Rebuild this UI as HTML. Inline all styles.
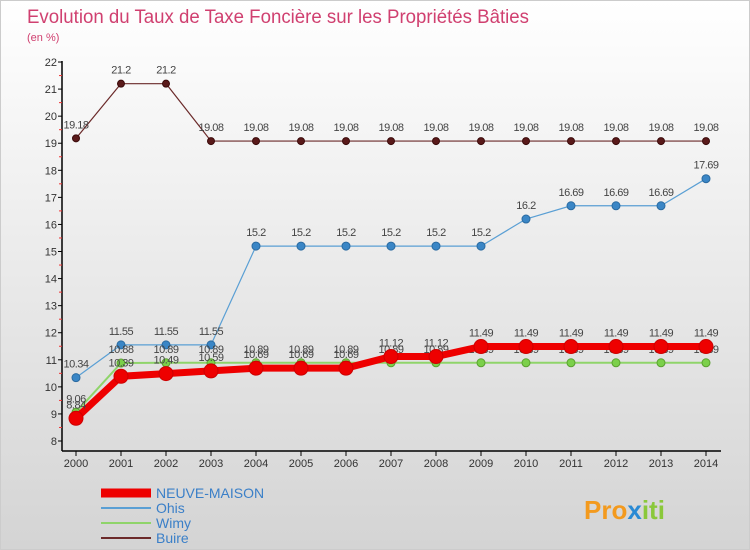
<!DOCTYPE html>
<html><head><meta charset="utf-8"><style>
body{margin:0}
#wrap{width:750px;height:550px;position:relative;background:linear-gradient(#fff,#d4d4d4);font-family:"Liberation Sans",sans-serif;overflow:hidden;border:1px solid #ccc;box-sizing:border-box}
</style></head><body>
<div id="wrap">
<svg id="c" width="750" height="550"></svg>
</div>
<script>
const years=[2000,2001,2002,2003,2004,2005,2006,2007,2008,2009,2010,2011,2012,2013,2014];
const neuve=[8.84,10.39,10.49,10.59,10.69,10.69,10.69,11.12,11.12,11.49,11.49,11.49,11.49,11.49,11.49];
const ohis=[10.34,11.55,11.55,11.55,15.2,15.2,15.2,15.2,15.2,15.2,16.2,16.69,16.69,16.69,17.69];
const wimy=[9.06,10.88,10.89,10.89,10.89,10.89,10.89,10.89,10.89,10.89,10.89,10.89,10.89,10.89,10.89];
const buire=[19.18,21.2,21.2,19.08,19.08,19.08,19.08,19.08,19.08,19.08,19.08,19.08,19.08,19.08,19.08];
const X=i=>75+i*45, Y=v=>440-(v-8)*27.07;
const svg=document.getElementById('c');const NS='http://www.w3.org/2000/svg';
function el(t,a,txt){const e=document.createElementNS(NS,t);for(const k in a)e.setAttribute(k,a[k]);if(txt!=null)e.textContent=txt;svg.appendChild(e);return e;}
let e;
e=el('text',{x:26,y:22,'font-size':19,fill:'#d04070','textLength':502,'lengthAdjust':'spacingAndGlyphs'},'Evolution du Taux de Taxe Foncière sur les Propriétés Bâties');

e=el('text',{x:26,y:40,'font-size':11,fill:'#d04070'},'(en %)');

e=el('line',{x1:61,y1:60,x2:61,y2:450,stroke:'#000','stroke-width':1.5});

e=el('line',{x1:61,y1:450,x2:720,y2:450,stroke:'#000','stroke-width':1.5});

for(let v=8;v<=22;v++){
 e=el('line',{x1:57,y1:Y(v),x2:61,y2:Y(v),stroke:'#000'});
 
 e=el('text',{x:56,y:Y(v)+4,'font-size':11,fill:'#333','text-anchor':'end'},String(v));
 
 if(v<22){e=el('line',{x1:58,y1:Y(v+0.5),x2:61,y2:Y(v+0.5),stroke:'#e33'});
 }
}
years.forEach((yr,i)=>{
 e=el('line',{x1:X(i),y1:450,x2:X(i),y2:455,stroke:'#000'});
 
 e=el('text',{x:X(i),y:466,'font-size':11,fill:'#333','text-anchor':'middle'},String(yr));
 
});
function series(data,name,color,w,r,dot,stroke,lblOff){
 const pts=data.map((v,i)=>X(i)+','+Y(v)).join(' ');
 e=el('polyline',{points:pts,fill:'none',stroke:color,'stroke-width':w,'stroke-linejoin':'round'});
 
 data.forEach((v,i)=>{
  e=el('circle',{cx:X(i),cy:Y(v),r:r,fill:dot,stroke:stroke,'stroke-width':1});
  
 });
 data.forEach((v,i)=>{
  e=el('text',{x:X(i),y:Y(v)+lblOff,'font-size':11,fill:'#444','text-anchor':'middle','letter-spacing':'-0.5'},String(v));
  
 });
}
series(buire,'buire','#6b2a2a',1.2,3.5,'#5a1a1a','#3a0a0a',-10);
series(ohis,'ohis','#5a9fd4',1.2,4,'#3a86c6','#2a6aa0',-10);
series(wimy,'wimy','#8fd46a',2,4,'#7bd04a','#5aa030',-10);
series(neuve,'neuve-maison','#ee0000',7,7,'#ee0000','#c00',-10);
const leg=[['NEUVE-MAISON','#ee0000',9],['Ohis','#5a9fd4',2],['Wimy','#8fd46a',2],['Buire','#6b2a2a',2]];
leg.forEach((l,i)=>{
 const y=492+i*15;
 e=el('line',{x1:100,y1:y,x2:150,y2:y,stroke:l[1],'stroke-width':l[2]});
 
 e=el('text',{x:155,y:y+5,'font-size':14,fill:'#3a7fc8'},l[0]);
 
});
e=el('text',{x:583,y:518,'font-size':26,'font-weight':'bold'});

[['Pro','#f39a1e'],['x','#2a8ad4'],['iti','#8ac83a']].forEach(p=>{const t=document.createElementNS(NS,'tspan');t.setAttribute('fill',p[1]);t.textContent=p[0];e.appendChild(t);});
</script>
</body></html>
